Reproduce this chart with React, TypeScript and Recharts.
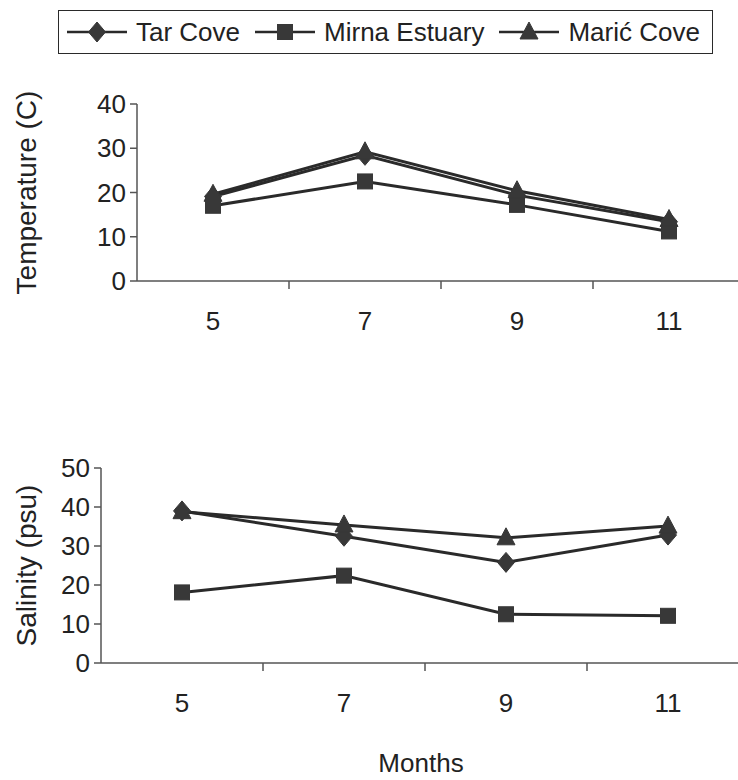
import React from 'react';
import { LineChart, Line, XAxis, YAxis, Label } from 'recharts';

const months = [5, 7, 9, 11];
const boundaryTicks = [5, 6, 7, 8, 9, 10, 11];
const seriesNames = ['Tar Cove', 'Mirna Estuary', 'Marić Cove'];
const tarTemp = [19.1, 28.4, 19.4, 13.4];
const mirnaTemp = [17.0, 22.5, 17.2, 11.2];
const maricTemp = [19.6, 29.2, 20.4, 13.9];
const tarSal = [39.0, 32.5, 25.8, 32.8];
const mirnaSal = [18.1, 22.4, 12.5, 12.1];
const maricSal = [38.8, 35.4, 32.1, 35.1];
const tempTicks = [0, 10, 20, 30, 40];
const salTicks = [0, 10, 20, 30, 40, 50];

const tempData = months.map((m, i) => ({ month: m, tar: tarTemp[i], mirna: mirnaTemp[i], maric: maricTemp[i] }));
const salData = months.map((m, i) => ({ month: m, tar: tarSal[i], mirna: mirnaSal[i], maric: maricSal[i] }));

const INK = '#2a2a2a';
const MARK = '#383838';
const AXIS = '#555';
const FONT = '"Liberation Sans", Arial, sans-serif';

const Diamond = ({ cx, cy }: { cx: number; cy: number }) => (
  <polygon points={`${cx},${cy - 10} ${cx + 8.5},${cy} ${cx},${cy + 10} ${cx - 8.5},${cy}`} fill={MARK} stroke={MARK} />
);
const Square = ({ cx, cy }: { cx: number; cy: number }) => (
  <rect x={cx - 7.5} y={cy - 7.5} width={15} height={15} fill={MARK} stroke={MARK} />
);
const Triangle = ({ cx, cy }: { cx: number; cy: number }) => (
  <polygon points={`${cx},${cy - 10} ${cx + 9},${cy + 7} ${cx - 9},${cy + 7}`} fill={MARK} stroke={MARK} />
);

const markers = [Diamond, Square, Triangle];
const keys = ['tar', 'mirna', 'maric'];

const MonthTick = (props: any) => {
  const { x, y, payload } = props;
  const v = payload.value;
  if (v % 2 === 0) {
    return <line x1={x} y1={y} x2={x} y2={y + 8} stroke={AXIS} strokeWidth={1.5} />;
  }
  return (
    <text x={x} y={y + 40} textAnchor="middle" dominantBaseline="central" fontSize={26} fill="#222" fontFamily={FONT}>
      {v}
    </text>
  );
};

const renderLines = () =>
  keys.map((k, i) => {
    const M = markers[i];
    return (
      <Line
        key={k}
        type="linear"
        dataKey={k}
        name={seriesNames[i]}
        stroke={INK}
        strokeWidth={3}
        isAnimationActive={false}
        dot={(p: any) => <M key={`${k}-${p.index}`} cx={p.cx} cy={p.cy} />}
        activeDot={false}
      />
    );
  });

const Panel = ({ data, width, height, top, yWidth, ticks, label }: any) => (
  <LineChart width={width} height={height} data={data} margin={{ top, right: 0, bottom: 0, left: 0 }}>
    <XAxis
      dataKey="month"
      type="number"
      domain={[4, 12]}
      ticks={boundaryTicks}
      interval={0}
      tickLine={false}
      tickSize={0}
      tickMargin={0}
      tick={<MonthTick />}
      axisLine={{ stroke: AXIS, strokeWidth: 1.5 }}
      height={60}
    />
    <YAxis
      type="number"
      domain={[0, ticks[ticks.length - 1]]}
      ticks={ticks}
      interval={0}
      width={yWidth}
      tickSize={7}
      tickMargin={4}
      tickLine={{ stroke: AXIS, strokeWidth: 1.5 }}
      axisLine={{ stroke: AXIS, strokeWidth: 1.5 }}
      tick={{ fontSize: 26, fill: '#222', fontFamily: FONT }}
    >
      <Label
        value={label}
        angle={-90}
        position="insideLeft"
        offset={26}
        style={{ textAnchor: 'middle', fontSize: 28, fill: '#222', fontFamily: FONT }}
      />
    </YAxis>
    {renderLines()}
  </LineChart>
);

const LegendBox = () => (
  <div
    style={{
      position: 'absolute',
      left: 58,
      top: 10,
      width: 655,
      height: 44,
      boxSizing: 'border-box',
      border: `1.5px solid ${INK}`,
      display: 'flex',
      alignItems: 'center',
      paddingLeft: 8,
      fontFamily: FONT,
      fontSize: 26,
      color: '#222',
      background: '#fff',
      whiteSpace: 'nowrap',
      overflow: 'hidden',
    }}
  >
    {seriesNames.map((n, i) => {
      const M = markers[i];
      return (
        <div key={n} style={{ display: 'flex', alignItems: 'center', marginRight: 15, flexShrink: 0 }}>
          <svg width={60} height={24} style={{ flexShrink: 0 }}>
            <line x1={0} y1={12} x2={60} y2={12} stroke={INK} strokeWidth={2.5} />
            <M cx={30} cy={12} />
          </svg>
          <span style={{ marginLeft: 9, lineHeight: 1, whiteSpace: 'nowrap' }}>{n}</span>
        </div>
      );
    })}
  </div>
);

export default function App() {
  return (
    <div
      style={{
        position: 'absolute',
        left: 0,
        top: 0,
        width: 738,
        height: 780,
        overflow: 'hidden',
        background: '#fff',
        fontFamily: FONT,
      }}
    >
      <LegendBox />
      <div style={{ position: 'absolute', left: 0, top: 80 }}>
        <Panel data={tempData} width={745} height={261} top={24} yWidth={137} ticks={tempTicks} label="Temperature (C)" />
      </div>
      <div style={{ position: 'absolute', left: 0, top: 440 }}>
        <Panel data={salData} width={749} height={283} top={28} yWidth={101} ticks={salTicks} label="Salinity (psu)" />
      </div>
      <div
        style={{
          position: 'absolute',
          left: 421,
          top: 750,
          transform: 'translateX(-50%)',
          fontSize: 26,
          lineHeight: 1,
          color: '#222',
          whiteSpace: 'nowrap',
        }}
      >
        Months
      </div>
    </div>
  );
}
